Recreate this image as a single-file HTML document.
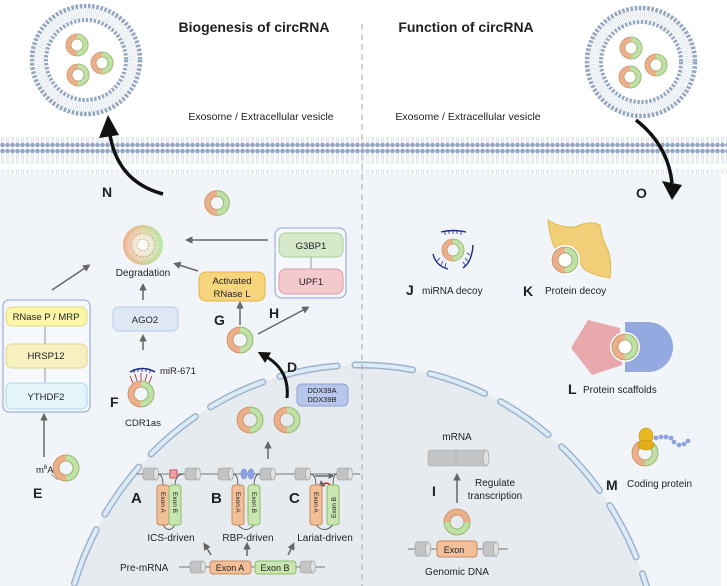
<!DOCTYPE html>
<html><head><meta charset="utf-8"><style>
html,body{margin:0;padding:0;background:#fff;width:727px;height:586px;overflow:hidden}
svg{display:block}
text{font-family:"Liberation Sans",Arial,sans-serif;fill:#222}
</style></head><body>
<svg width="727" height="586" viewBox="0 0 727 586" xmlns="http://www.w3.org/2000/svg">
<defs>
<pattern id="mem" x="0" y="0" width="5" height="37" patternUnits="userSpaceOnUse">
 <rect width="5" height="37" fill="#fff"/>
 <line x1="1.8" y1="3" x2="1.8" y2="16" stroke="#c5d0e2" stroke-width="0.6"/>
 <line x1="3.2" y1="3" x2="3.2" y2="16" stroke="#c5d0e2" stroke-width="0.6"/>
 <line x1="1.8" y1="21" x2="1.8" y2="34" stroke="#c5d0e2" stroke-width="0.6"/>
 <line x1="3.2" y1="21" x2="3.2" y2="34" stroke="#c5d0e2" stroke-width="0.6"/>
 <circle cx="2.5" cy="3" r="2.3" fill="#93a6c3"/>
 <circle cx="2.5" cy="34" r="2.3" fill="#93a6c3"/>
</pattern>
<g id="circ">
 <path d="M0,-10 A10,10 0 0 0 0,10" fill="none" stroke="#eab08a" stroke-width="6"/>
 <path d="M0,-10 A10,10 0 0 1 0,10" fill="none" stroke="#bfe0a6" stroke-width="6"/>
 <circle r="13" fill="none" stroke="#c98a5e" stroke-width="0.8"/>
 <circle r="7" fill="none" stroke="#c98a5e" stroke-width="0.8"/>
 <path d="M0,-13 A13,13 0 0 1 0,13 M0,-7 A7,7 0 0 1 0,7" fill="none" stroke="#8cbf6c" stroke-width="0.8"/>
</g>
<g id="ves">
 <circle r="54" fill="none" stroke="#93a6c3" stroke-width="4.5" stroke-dasharray="2.6 1.6"/>
 <circle r="47" fill="none" stroke="#d5dde9" stroke-width="10" stroke-dasharray="0.7 1.2"/>
 <circle r="40" fill="none" stroke="#93a6c3" stroke-width="4" stroke-dasharray="2.4 1.6"/>
</g>
<marker id="ah" viewBox="0 0 10 10" refX="6" refY="5" markerWidth="5" markerHeight="5" orient="auto"><path d="M0,0 L10,5 L0,10 z" fill="#666"/></marker>
<marker id="bh" viewBox="0 0 10 10" refX="3" refY="5" markerWidth="4" markerHeight="4" orient="auto"><path d="M0,0 L10,5 L0,10 z" fill="#111"/></marker>
<radialGradient id="deg"><stop offset="0.2" stop-color="#fff" stop-opacity="0.9"/><stop offset="1" stop-color="#fff" stop-opacity="0"/></radialGradient>
<linearGradient id="degc" x1="0" x2="1"><stop offset="0" stop-color="#f39060"/><stop offset="1" stop-color="#9fe07a"/></linearGradient>
<g id="cylg"><rect x="0" y="-6" width="15" height="12" rx="3" fill="#c4c4c4" stroke="#999" stroke-width="0.6"/><ellipse cx="13" cy="0" rx="2.5" ry="6" fill="#e0e0e0" stroke="#999" stroke-width="0.6"/></g>
</defs>

<!-- backgrounds -->
<rect x="0" y="172" width="721" height="414" fill="#f1f5fa"/>
<ellipse cx="360" cy="680" rx="300" ry="315" fill="#e6ebf0"/>
<ellipse cx="360" cy="680" rx="300" ry="315" fill="none" stroke="#9fb3cb" stroke-width="7" stroke-dasharray="58 18" stroke-linecap="round"/>
<ellipse cx="360" cy="680" rx="300" ry="315" fill="none" stroke="#dcebf8" stroke-width="4" stroke-dasharray="58 18" stroke-linecap="round"/>
<rect x="0" y="137" width="727" height="37" fill="url(#mem)"/>
<line x1="362" y1="24" x2="362" y2="586" stroke="#aaa" stroke-width="1" stroke-dasharray="6 4"/>

<!-- titles -->
<text x="254" y="32" font-size="14" font-weight="bold" text-anchor="middle">Biogenesis of circRNA</text>
<text x="466" y="32" font-size="14" font-weight="bold" text-anchor="middle">Function of circRNA</text>
<text x="261" y="120" font-size="10.5" text-anchor="middle">Exosome / Extracellular vesicle</text>
<text x="468" y="120" font-size="10.5" text-anchor="middle">Exosome / Extracellular vesicle</text>

<!-- vesicles -->
<g transform="translate(86,60)">
 <use href="#ves"/>
 <use href="#circ" transform="translate(-9,-15) scale(0.85)"/>
 <use href="#circ" transform="translate(16,3) scale(0.85)"/>
 <use href="#circ" transform="translate(-8,15) scale(0.85)"/>
</g>
<g transform="translate(641,62)">
 <use href="#ves"/>
 <use href="#circ" transform="translate(-10,-14) scale(0.85)"/>
 <use href="#circ" transform="translate(15,3) scale(0.85)"/>
 <use href="#circ" transform="translate(-11,15) scale(0.85)"/>
</g>

<!-- N / O arrows -->
<path d="M163,194 Q118,182 110,135" fill="none" stroke="#111" stroke-width="3.5"/>
<polygon points="99,138 108,115 119,135" fill="#111"/>
<text x="102" y="197" font-size="14" font-weight="bold">N</text>
<path d="M636,120 Q668,145 672,183" fill="none" stroke="#111" stroke-width="3.5"/>
<polygon points="662,181 682,185 672,200" fill="#111"/>
<text x="636" y="198" font-size="14" font-weight="bold">O</text>

<use href="#circ" transform="translate(217,203) scale(0.95)"/>

<!-- degradation -->
<circle cx="143" cy="245" r="20" fill="url(#degc)" opacity="0.75"/>
<circle cx="143" cy="245" r="20" fill="url(#deg)"/>
<circle cx="143" cy="245" r="12" fill="none" stroke="#c98a5e" stroke-width="0.7" stroke-dasharray="2 1.5"/>
<circle cx="143" cy="245" r="6" fill="none" stroke="#c98a5e" stroke-width="0.7" stroke-dasharray="2 1.5"/>
<text x="143" y="276" font-size="10" text-anchor="middle">Degradation</text>

<g stroke="#666" stroke-width="1.5" fill="none" marker-end="url(#ah)">
 <line x1="268" y1="240" x2="188" y2="240"/>
 <line x1="198" y1="271" x2="176" y2="264"/>
 <line x1="143" y1="300" x2="143" y2="286"/>
 <line x1="52" y1="290" x2="88" y2="266"/>
 <line x1="143" y1="350" x2="143" y2="337"/>
 <line x1="240" y1="325" x2="240" y2="304"/>
 <line x1="258" y1="334" x2="307" y2="308"/>
 <line x1="44" y1="457" x2="44" y2="416"/>
 <line x1="268" y1="459" x2="268" y2="444"/>
 <line x1="211" y1="555" x2="205" y2="545"/>
 <line x1="247" y1="556" x2="247" y2="545"/>
 <line x1="288" y1="555" x2="293" y2="545"/>
 <line x1="457" y1="503" x2="457" y2="476"/>
</g>

<!-- left box -->
<rect x="3" y="300" width="87" height="112" rx="6" fill="#f5f8fc" stroke="#8f9fd8" stroke-width="1"/>
<line x1="45" y1="326" x2="45" y2="383" stroke="#999"/>
<rect x="6" y="307" width="81" height="19" rx="6" fill="#fbf6a8" stroke="#e0d880"/>
<text x="46" y="320" font-size="9.5" text-anchor="middle">RNase P / MRP</text>
<rect x="6" y="344" width="81" height="24" rx="6" fill="#f7f0c0" stroke="#e3d68a"/>
<text x="46" y="359" font-size="9.5" text-anchor="middle">HRSP12</text>
<rect x="6" y="383" width="81" height="26" rx="6" fill="#e3f4fb" stroke="#aed6ea"/>
<text x="46" y="400" font-size="9.5" text-anchor="middle">YTHDF2</text>
<text x="36" y="473" font-size="9.5">m<tspan font-size="6" dy="-4">6</tspan><tspan dy="4">A</tspan></text>
<line x1="51" y1="474" x2="58" y2="480" stroke="#666" stroke-width="0.8"/>
<text x="33" y="498" font-size="14" font-weight="bold">E</text>
<use href="#circ" transform="translate(66,468)"/>

<!-- AGO2 -->
<rect x="113" y="307" width="65" height="24" rx="6" fill="#dfe7f5" stroke="#b8c8e8"/>
<text x="145" y="323" font-size="9.5" text-anchor="middle">AGO2</text>
<path d="M130,372 Q143,365 155,372" fill="none" stroke="#1c2a80" stroke-width="1.5"/>
<g stroke="#1c2a80" stroke-width="0.9"><line x1="134" y1="369" x2="134" y2="373"/><line x1="138" y1="368" x2="138" y2="372"/><line x1="142" y1="368" x2="142" y2="372"/><line x1="146" y1="368" x2="146" y2="372"/><line x1="150" y1="369" x2="150" y2="373"/></g>
<text x="160" y="374" font-size="9.5">miR-671</text>
<use href="#circ" transform="translate(141,394)"/>
<g stroke="#b03030" stroke-width="0.9"><line x1="133" y1="383" x2="130" y2="376"/><line x1="137" y1="381" x2="135" y2="374"/><line x1="141" y1="381" x2="141" y2="373"/><line x1="145" y1="381" x2="147" y2="374"/><line x1="149" y1="383" x2="152" y2="376"/></g>
<text x="110" y="407" font-size="14" font-weight="bold">F</text>
<text x="143" y="426" font-size="9.5" text-anchor="middle">CDR1as</text>

<!-- RNase L -->
<rect x="199" y="272" width="66" height="29" rx="7" fill="#f6d57c" stroke="#e1b44a"/>
<text x="232" y="284" font-size="9.5" text-anchor="middle">Activated</text>
<text x="232" y="297" font-size="9.5" text-anchor="middle">RNase L</text>
<text x="214" y="325" font-size="14" font-weight="bold">G</text>
<text x="269" y="318" font-size="14" font-weight="bold">H</text>
<use href="#circ" transform="translate(240,340)"/>

<rect x="275" y="228" width="71" height="70" rx="7" fill="#f5f8fc" stroke="#8f9fd8"/>
<line x1="311" y1="256" x2="311" y2="270" stroke="#999"/>
<rect x="279" y="233" width="64" height="24" rx="7" fill="#d6eacb" stroke="#a8cc92"/>
<text x="311" y="249" font-size="9.5" text-anchor="middle">G3BP1</text>
<rect x="279" y="269" width="64" height="25" rx="7" fill="#f3c9ce" stroke="#dc9aa2"/>
<text x="311" y="285" font-size="9.5" text-anchor="middle">UPF1</text>

<!-- D -->
<path d="M287,398 Q290,370 265,356" fill="none" stroke="#111" stroke-width="3" marker-end="url(#bh)"/>
<text x="287" y="372" font-size="14" font-weight="bold">D</text>
<rect x="297" y="384" width="51" height="22" rx="5" fill="#b7c6ea" stroke="#8fa3d8"/>
<text x="322" y="393" font-size="7.5" text-anchor="middle">DDX39A</text>
<text x="322" y="402" font-size="7.5" text-anchor="middle">DDX39B</text>
<use href="#circ" transform="translate(250,420)"/>
<use href="#circ" transform="translate(287,420)"/>

<!-- ABC -->
<g stroke="#777" stroke-width="1"><line x1="136" y1="474" x2="360" y2="474"/></g>
<use href="#cylg" transform="translate(143,474)"/>
<use href="#cylg" transform="translate(185,474)"/>
<use href="#cylg" transform="translate(218,474)"/>
<use href="#cylg" transform="translate(260,474)"/>
<use href="#cylg" transform="translate(295,474)"/>
<use href="#cylg" transform="translate(337,474)"/>
<rect x="170" y="470" width="7" height="8" fill="#f2a0a8" stroke="#c55"/>
<ellipse cx="244" cy="474" rx="3.5" ry="5.5" fill="#8c9fde"/><ellipse cx="251" cy="474" rx="3.5" ry="5.5" fill="#8c9fde"/>
<line x1="315" y1="476" x2="332" y2="476" stroke="#555" stroke-width="1.2" marker-end="url(#ah)"/>
<g fill="none" stroke="#555" stroke-width="0.9">
 <path d="M158,474 Q163,474 163,486"/><path d="M184,474 Q175,474 175,486"/>
 <path d="M163,525 Q169,534 175,525"/>
 <path d="M233,474 Q238,474 238,486"/><path d="M260,474 Q254,474 254,486"/>
 <path d="M238,525 Q246,534 254,525"/>
 <path d="M310,474 Q316,474 316,486"/><path d="M337,474 Q333,474 333,486"/>
 <path d="M316,525 Q324,534 333,525"/>
</g>
<path d="M333,489 Q328,479 320,486" fill="none" stroke="#d02020" stroke-width="1.5" marker-end="url(#ah)"/>
<g font-size="6.5">
<rect x="157" y="485" width="12" height="40" rx="3" fill="#f2bf99" stroke="#c98a5e"/>
<rect x="169" y="485" width="12" height="40" rx="3" fill="#c9e6b0" stroke="#8cbf6c"/>
<rect x="232" y="485" width="12" height="40" rx="3" fill="#f2bf99" stroke="#c98a5e"/>
<rect x="248" y="485" width="12" height="40" rx="3" fill="#c9e6b0" stroke="#8cbf6c"/>
<rect x="310" y="485" width="12" height="40" rx="3" fill="#f2bf99" stroke="#c98a5e"/>
<rect x="327" y="485" width="12" height="40" rx="3" fill="#c9e6b0" stroke="#8cbf6c"/>
<text transform="translate(161,492) rotate(90)">Exon A</text>
<text transform="translate(173,492) rotate(90)">Exon B</text>
<text transform="translate(236,492) rotate(90)">Exon A</text>
<text transform="translate(252,492) rotate(90)">Exon B</text>
<text transform="translate(314,492) rotate(90)">Exon A</text>
<text transform="translate(336,518) rotate(-90)">Exon B</text>
</g>
<text x="131" y="503" font-size="15" font-weight="bold">A</text>
<text x="211" y="503" font-size="15" font-weight="bold">B</text>
<text x="289" y="503" font-size="15" font-weight="bold">C</text>
<text x="171" y="541" font-size="10" text-anchor="middle">ICS-driven</text>
<text x="248" y="541" font-size="10" text-anchor="middle">RBP-driven</text>
<text x="325" y="541" font-size="10" text-anchor="middle">Lariat-driven</text>

<!-- pre-mRNA -->
<text x="120" y="571" font-size="10">Pre-mRNA</text>
<line x1="179" y1="567" x2="325" y2="567" stroke="#777"/>
<use href="#cylg" transform="translate(190,567)"/>
<rect x="210" y="561" width="41" height="13" rx="3" fill="#f2bf99" stroke="#c98a5e"/>
<text x="230" y="571" font-size="9" text-anchor="middle">Exon A</text>
<rect x="255" y="561" width="41" height="13" rx="3" fill="#c9e6b0" stroke="#8cbf6c"/>
<text x="275" y="571" font-size="9" text-anchor="middle">Exon B</text>
<use href="#cylg" transform="translate(300,567)"/>

<!-- J -->
<use href="#circ" transform="translate(453,250) scale(0.85)"/>
<g fill="none" stroke="#1c2a80" stroke-width="1.4">
 <path d="M441,232 Q453,229 466,232"/><path d="M433,254 Q436,266 448,269"/><path d="M473,245 Q472,262 463,268"/>
</g>
<g stroke="#1c2a80" stroke-width="0.8">
 <line x1="445" y1="231" x2="445" y2="235"/><line x1="449" y1="230" x2="449" y2="234"/><line x1="453" y1="230" x2="453" y2="234"/><line x1="457" y1="230" x2="457" y2="234"/><line x1="461" y1="231" x2="461" y2="235"/>
 <line x1="437" y1="261" x2="440" y2="258"/><line x1="441" y1="265" x2="443" y2="261"/><line x1="445" y1="267" x2="446" y2="263"/>
 <line x1="470" y1="255" x2="467" y2="253"/><line x1="468" y1="261" x2="465" y2="258"/><line x1="465" y1="265" x2="463" y2="262"/>
</g>
<text x="406" y="295" font-size="14" font-weight="bold">J</text>
<text x="422" y="294" font-size="10">miRNA decoy</text>

<!-- K -->
<path d="M548,220 Q560,228 575,227 Q590,220 600,225 Q602,240 608,250 Q612,262 610,278 Q595,276 585,270 L576,258 Q565,248 556,250 Q550,240 548,220 z" fill="#f0cf78" stroke="#e0b848"/>
<circle cx="565" cy="260" r="15" fill="#fff"/>
<use href="#circ" transform="translate(565,260)"/>
<text x="523" y="296" font-size="14" font-weight="bold">K</text>
<text x="545" y="294" font-size="10">Protein decoy</text>

<!-- L -->
<path d="M588,320 L620,328 L622,365 L592,375 L571,348 z" fill="#e8a8ac"/>
<path d="M625,322 L648,322 A25,25 0 0 1 648,372 L625,372 z" fill="#94a9e0"/>
<circle cx="625" cy="347" r="15" fill="#fff"/>
<use href="#circ" transform="translate(625,347)"/>
<text x="568" y="394" font-size="14" font-weight="bold">L</text>
<text x="583" y="393" font-size="10">Protein scaffolds</text>

<!-- M -->
<use href="#circ" transform="translate(645,453)"/>
<ellipse cx="646" cy="436" rx="7" ry="8" fill="#e9b820" stroke="#c09010" stroke-width="0.6"/>
<ellipse cx="646" cy="445" rx="8" ry="5" fill="#e2ad18" stroke="#c09010" stroke-width="0.6"/>
<g fill="#8fa3e0"><circle cx="656" cy="438" r="2.4"/><circle cx="661" cy="437" r="2.4"/><circle cx="666" cy="437" r="2.4"/><circle cx="671" cy="438" r="2.4"/><circle cx="674" cy="442" r="2.4"/><circle cx="679" cy="445" r="2.4"/><circle cx="684" cy="444" r="2.4"/><circle cx="688" cy="441" r="2.4"/></g>
<text x="606" y="490" font-size="14" font-weight="bold">M</text>
<text x="627" y="487" font-size="10">Coding protein</text>

<!-- I -->
<text x="457" y="440" font-size="10" text-anchor="middle">mRNA</text>
<rect x="428" y="450" width="60" height="16" rx="3" fill="#c4c4c4" stroke="#aaa" stroke-width="0.6"/>
<line x1="456" y1="450" x2="456" y2="466" stroke="#aaa" stroke-width="0.6"/>
<ellipse cx="486" cy="458" rx="3" ry="8" fill="#e0e0e0" stroke="#999" stroke-width="0.6"/>
<text x="432" y="496" font-size="14" font-weight="bold">I</text>
<text x="495" y="486" font-size="10" text-anchor="middle">Regulate</text>
<text x="495" y="499" font-size="10" text-anchor="middle">transcription</text>
<use href="#circ" transform="translate(457,522) rotate(90)"/>
<line x1="408" y1="549" x2="508" y2="549" stroke="#777"/>
<use href="#cylg" transform="translate(415,549) scale(1,1.2)"/>
<rect x="437" y="541" width="40" height="16" rx="3" fill="#f2bf99" stroke="#c98a5e"/>
<text x="454" y="553" font-size="9" text-anchor="middle">Exon</text>
<use href="#cylg" transform="translate(483,549) scale(1,1.2)"/>
<text x="457" y="575" font-size="10" text-anchor="middle">Genomic DNA</text>
</svg>
</body></html>
